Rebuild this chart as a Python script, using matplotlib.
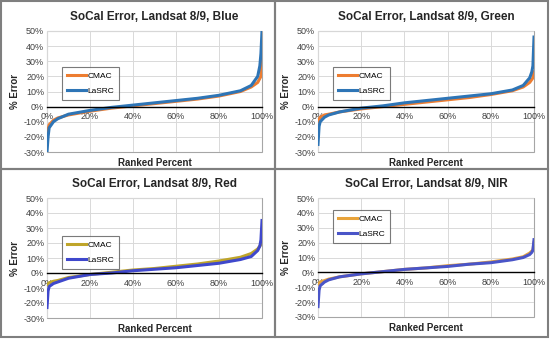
import matplotlib
matplotlib.use("Agg")
import matplotlib.pyplot as plt
import numpy as np
from matplotlib.patches import Rectangle

plt.rcParams['font.family'] = ['Liberation Sans', 'DejaVu Sans']

# ranked percent positions (%) and % error
pct_cmac = [0, 1, 3, 5, 10, 20, 30, 40, 50, 60, 70, 80, 90, 95, 98, 99.5, 100]
pct_lasrc = [0, 0.5, 1, 3, 5, 10, 20, 30, 40, 50, 60, 70, 80, 90, 95, 98, 99, 99.5, 100]

blue_cmac = [-18, -12, -9, -7.5, -5.5, -3, -1, 0.5, 2, 3.5, 5, 7, 10, 13, 16, 20, 33]
blue_lasrc = [-30, -20, -14, -10, -8, -5, -2.5, -0.5, 1, 2.5, 4, 5.5, 7.5, 10.5, 14, 20, 27, 35, 50]

green_cmac = [-10, -7, -5.5, -5, -3.5, -1.5, 0, 1.5, 3, 4.5, 6, 8, 10.5, 13, 16, 19, 23]
green_lasrc = [-25, -13, -10, -7, -5.5, -3.5, -1, 0.5, 2.5, 4, 5.5, 7, 8.5, 11, 14, 19, 23, 27, 46]

red_cmac = [-8, -6.5, -5.5, -5, -3, -1, 0.5, 2, 3, 4.5, 6, 8, 10.5, 13, 16, 19, 22]
red_lasrc = [-23, -12, -9, -7, -6, -3.5, -1, 0, 1.5, 2.5, 3.5, 5, 6.5, 9, 11, 15, 18, 22, 35]

nir_cmac = [-8, -6.5, -5.5, -4.5, -3, -1, 0.5, 2, 3, 4.5, 5.5, 7, 9, 10.5, 13, 15, 20]
nir_lasrc = [-23, -12, -9, -6.5, -5, -3, -1, 0.5, 2, 3, 4, 5.5, 6.5, 8.5, 10, 12, 13.5, 15, 22]

titles = ["SoCal Error, Landsat 8/9, Blue", "SoCal Error, Landsat 8/9, Green",
          "SoCal Error, Landsat 8/9, Red", "SoCal Error, Landsat 8/9, NIR"]
series = [(blue_cmac, blue_lasrc), (green_cmac, green_lasrc),
          (red_cmac, red_lasrc), (nir_cmac, nir_lasrc)]
colors = [("#ED7D31", "#2E75B6"), ("#ED7D31", "#2E75B6"),
          ("#BFA52A", "#3F48CC"), ("#E8A33A", "#4A55C8")]

# plot area boxes in figure pixels: left, right, top, bottom
boxes = [(47, 262, 31, 152), (318, 534, 31, 152),
         (47, 262, 198, 318), (318, 534, 198, 317)]
legend_pos = [(58, 63), (329, 63), (58, 232), (329, 206)]
xlabel_y = [163, 163, 329, 328]

W, H = 550, 339
fig = plt.figure(figsize=(W / 100, H / 100), dpi=100)

# panel frames
for (x0, y0, w, h) in [(1, 1, 274, 168), (275, 1, 273, 168), (1, 169, 274, 168), (275, 169, 273, 168)]:
    fig.add_artist(Rectangle((x0 / W, 1 - (y0 + h) / H), w / W, h / H,
                             transform=fig.transFigure, fill=False,
                             edgecolor="#7f7f7f", lw=1.5))

xt = list(range(0, 101, 20))
yt = list(range(-30, 51, 10))

for i in range(4):
    l, r, t, b = boxes[i]
    ax = fig.add_axes([l / W, 1 - b / H, (r - l) / W, (b - t) / H])
    c1, c2 = colors[i]
    ax.plot(pct_cmac, series[i][0], color=c1, lw=2.2, label="CMAC")
    ax.plot(pct_lasrc, series[i][1], color=c2, lw=2.2, label="LaSRC")
    ax.set_xlim(0, 100)
    ax.set_ylim(-30, 50)
    ax.set_xticks(xt)
    ax.set_yticks(yt)
    ax.set_xticklabels([f"{v}%" for v in xt])
    ax.set_yticklabels([f"{v}%" for v in yt])
    ax.grid(True, color="#d9d9d9", lw=0.7)
    ax.set_axisbelow(True)
    ax.tick_params(length=0, labelsize=6.5, labelcolor="#404040", pad=2)
    ax.tick_params(axis="x", pad=4)
    # bottom spine acts as the zero line, so x labels sit under it
    ax.spines["bottom"].set_position(("data", 0))
    ax.spines["bottom"].set_color("black")
    ax.spines["bottom"].set_linewidth(1)
    for s in ["left", "right", "top"]:
        ax.spines[s].set_visible(False)
    ax.add_patch(Rectangle((0, 0), 1, 1, transform=ax.transAxes, fill=False,
                           edgecolor="#a6a6a6", lw=0.8, clip_on=False, zorder=0.5))
    ax.set_title(titles[i], fontsize=8.5, fontweight="bold", color="#262626", pad=8)
    ax.set_ylabel("% Error", fontsize=7, fontweight="bold", color="#262626", labelpad=2)
    fig.text((l + r) / 2 / W, 1 - xlabel_y[i] / H, "Ranked Percent", ha="center", va="center",
             fontsize=7, fontweight="bold", color="#262626")
    lx, ly = legend_pos[i]
    leg = ax.legend(loc="upper left", bbox_to_anchor=((lx - l) / (r - l), 1 - (ly - t) / (b - t)),
                    fontsize=6, frameon=True, fancybox=False, edgecolor="#595959",
                    handlelength=2.2, borderpad=0.6, labelspacing=0.9, handletextpad=0.2)
    leg.get_frame().set_linewidth(0.8)

fig.savefig("out.png", dpi=100)
